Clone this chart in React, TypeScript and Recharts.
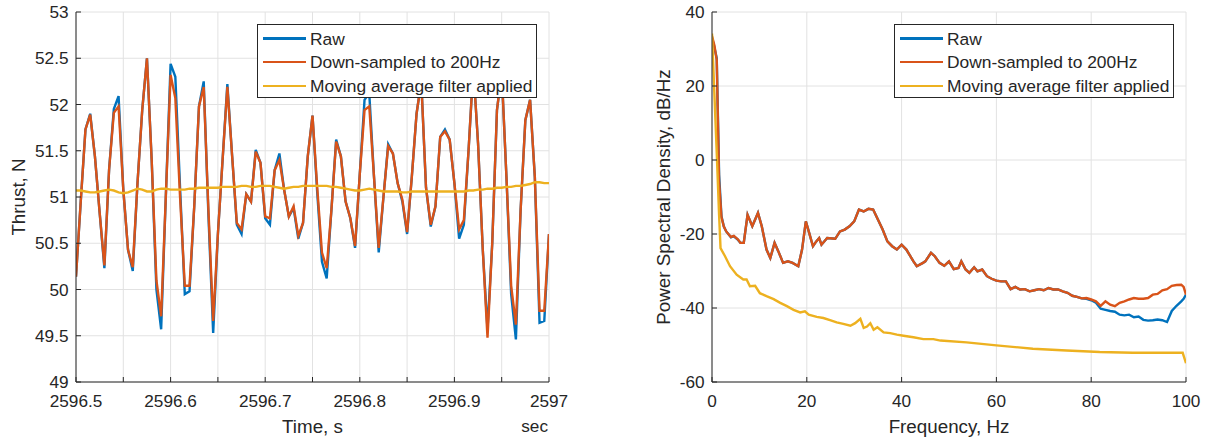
import React from 'react';
import {
    LineChart, Line, XAxis, YAxis, CartesianGrid, Legend,
} from 'recharts';

const FONT = '"Liberation Sans", Arial, Helvetica, sans-serif';
const INK = '#262626';
const GRID = '#e2e2e2';
const BLUE = '#0072BD';
const ORANGE = '#D95319';
const YELLOW = '#EDB120';
const LINE_W = 2.4;

const seriesNames = ['Raw', 'Down-sampled to 200Hz', 'Moving average filter applied'];

// thrust, 200 Hz samples from 2596.5 s
const startTime = 2596.5;
const sampleRate = 200;

const rawThrust = [
    50.14, 50.95, 51.73, 51.90, 51.44, 50.83, 50.23, 51.30, 51.95, 52.09,
    51.08, 50.43, 50.20, 51.15, 51.94, 52.50, 51.40, 50.00, 49.57, 51.02,
    52.44, 52.30, 51.10, 49.95, 49.98, 50.90, 51.98, 52.25, 50.80, 49.53,
    50.60, 51.41, 52.22, 51.45, 50.70, 50.60, 51.03, 50.95, 51.51, 51.37,
    50.77, 50.70, 51.29, 51.47, 51.08, 50.79, 50.88, 50.55, 50.72, 51.44,
    51.88, 51.05, 50.30, 50.12, 50.86, 51.62, 51.44, 50.95, 50.77, 50.45,
    51.25, 52.05, 52.12, 51.22, 50.40, 51.00, 51.57, 51.47, 51.15, 50.95,
    50.60, 51.22, 51.90, 52.25, 51.10, 50.68, 50.90, 51.65, 51.73, 51.62,
    51.15, 50.55, 50.70, 51.51, 52.40, 51.58, 50.43, 49.57, 50.50, 51.94,
    52.35, 51.22, 49.95, 49.46, 50.86, 51.83, 52.05, 51.22, 49.64, 49.66,
    50.60,
];

const downThrust = [
    50.14, 50.95, 51.73, 51.89, 51.44, 50.83, 50.26, 51.30, 51.91, 51.98,
    51.08, 50.43, 50.24, 51.15, 51.94, 52.50, 51.40, 50.10, 49.71, 51.02,
    52.32, 52.07, 51.00, 50.04, 50.04, 50.90, 51.98, 52.19, 50.86, 49.66,
    50.60, 51.41, 52.19, 51.45, 50.72, 50.65, 51.03, 50.95, 51.49, 51.37,
    50.79, 50.77, 51.29, 51.40, 51.08, 50.79, 50.90, 50.58, 50.72, 51.44,
    51.88, 51.10, 50.40, 50.23, 50.86, 51.60, 51.44, 50.95, 50.77, 50.47,
    51.25, 51.94, 51.98, 51.22, 50.45, 51.00, 51.55, 51.47, 51.15, 50.97,
    50.62, 51.22, 51.90, 52.25, 51.10, 50.70, 50.90, 51.65, 51.71, 51.62,
    51.15, 50.65, 50.75, 51.51, 52.40, 51.58, 50.43, 49.48, 50.50, 51.94,
    52.35, 51.22, 50.04, 49.62, 50.86, 51.83, 52.05, 51.22, 49.77, 49.77,
    50.60,
];

const avgThrust = [
    51.07, 51.07, 51.06, 51.05, 51.05, 51.06, 51.07, 51.08, 51.07, 51.05,
    51.04, 51.05, 51.07, 51.09, 51.08, 51.06, 51.06, 51.08, 51.09, 51.09,
    51.08, 51.08, 51.08, 51.08, 51.09, 51.09, 51.10, 51.10, 51.10, 51.10,
    51.10, 51.11, 51.11, 51.11, 51.11, 51.12, 51.12, 51.11, 51.11, 51.12,
    51.12, 51.12, 51.11, 51.10, 51.09, 51.10, 51.11, 51.11, 51.12, 51.12,
    51.12, 51.12, 51.12, 51.12, 51.11, 51.11, 51.10, 51.09, 51.08, 51.07,
    51.07, 51.08, 51.09, 51.08, 51.07, 51.06, 51.06, 51.06, 51.06, 51.05,
    51.05, 51.06, 51.06, 51.06, 51.06, 51.06, 51.06, 51.06, 51.06, 51.06,
    51.06, 51.06, 51.06, 51.07, 51.07, 51.08, 51.08, 51.09, 51.09, 51.10,
    51.10, 51.11, 51.11, 51.12, 51.12, 51.13, 51.14, 51.16, 51.16, 51.15,
    51.15,
];

const timeTicks = [2596.5, 2596.55, 2596.6, 2596.65, 2596.7, 2596.75, 2596.8, 2596.85, 2596.9, 2596.95, 2597];
const timeTickLabels = ['2596.5', '', '2596.6', '', '2596.7', '', '2596.8', '', '2596.9', '', '2597'];
const thrustTicks = [49, 49.5, 50, 50.5, 51, 51.5, 52, 52.5, 53];

// power spectral density, dB/Hz
const psdFreq = [
    0, 0.5, 1, 1.5, 2, 2.5, 3, 4, 4.6, 5.5,
    6, 6.7, 7.5, 8.5, 9.7, 10.5, 11.5, 12.3, 13.2, 14,
    15, 16, 17, 18.2, 19, 19.8, 20.5, 21.3, 22, 22.6,
    23.1, 24.3, 26, 27, 28, 29, 30, 31, 32, 33,
    34, 35, 36, 37, 38, 39, 40, 41, 42.5, 43.2,
    44.5, 45, 46.2, 47, 48, 49, 50, 51, 52, 52.6,
    53.5, 54.3, 55.3, 56, 57, 58, 59, 60, 61, 62,
    63, 64, 65, 66, 67, 68, 69, 70, 71, 72,
    73, 74, 75, 76, 77, 78, 79, 80, 81, 82,
    83, 84, 85, 86, 87, 88, 89, 90, 91, 92,
    93, 94, 95, 96, 97, 98, 99, 99.5, 100,
];

const psdRaw = [
    33, 30.5, 27.5, -4, -15.2, -18, -19.3, -20.9, -20.6, -21.6,
    -22.4, -22.4, -14.8, -17.9, -14.3, -17.9, -24.2, -26.5, -22.4, -24.7,
    -27.8, -27.4, -27.8, -28.7, -24.2, -16.6, -19.7, -23.3, -22, -21.1,
    -22.9, -21.1, -21.3, -19.3, -18.8, -17.9, -16.6, -13.4, -13.9, -13.2,
    -13.4, -16.1, -18.8, -22, -23.3, -24.2, -22.9, -24.2, -27.4, -28.7,
    -27.8, -27.4, -25.1, -26.0, -27.8, -28.6, -27.4, -29.5, -29.2, -27.4,
    -29.6, -30.5, -29, -30.1, -29.6, -31.4, -32.1, -32.6, -32.8, -32.8,
    -34.9, -34.3, -35, -34.9, -35.5, -35.2, -34.9, -35.2, -34.6, -35,
    -35, -35.5, -35.9, -36.7, -37, -37.4, -37.5, -37.9, -38.6, -40.2,
    -40.5, -40.8, -41, -41.8, -42, -41.8, -42.5, -42.3, -43.2, -43.4,
    -43.3, -43.1, -43.3, -43.8, -40.8, -39.4, -38.2, -37.5, -36.4,
];

const psdDown = [
    33.5, 31, 27, -6, -15.5, -18, -19.3, -20.8, -20.5, -21.5,
    -22.4, -22.4, -14.8, -17.9, -14.3, -17.9, -24.2, -26.5, -22.4, -24.7,
    -27.8, -27.4, -27.8, -28.7, -24.2, -16.6, -19.7, -23.3, -22, -21.1,
    -22.9, -21.1, -21.3, -19.3, -18.8, -17.9, -16.6, -13.4, -13.9, -13.2,
    -13.4, -16.1, -18.8, -22, -23.3, -24.2, -22.9, -24.2, -27.4, -28.7,
    -27.8, -27.4, -25.1, -26.0, -27.8, -28.6, -27.4, -29.5, -29.2, -27.4,
    -29.6, -30.5, -29, -30.1, -29.6, -31.4, -32.1, -32.6, -32.8, -32.8,
    -34.9, -34.3, -35, -34.9, -35.5, -35.2, -34.9, -35.2, -34.6, -35,
    -35, -35.5, -35.9, -36.7, -37, -37.4, -37.3, -37.7, -38.2, -39.4,
    -38.2, -39.1, -39.5, -38.6, -38.2, -37.7, -37.3, -37.5, -37.5, -37.3,
    -36.4, -36.2, -35.2, -34.9, -34, -33.8, -33.7, -34.3, -36.4,
];

const filtFreq = [
    0, 0.5, 1, 1.5, 1.8, 2.75, 3.8, 5.2, 6.6, 7.3,
    8, 9.1, 10.1, 11.5, 13, 14.4, 15.8, 17.2, 18.6, 19.6,
    20.4, 22.1, 23.5, 24.9, 26.3, 27.7, 29.2, 30.2, 31.3, 32,
    32.7, 33.4, 34.1, 34.9, 36.2, 37.6, 39, 40.4, 42.5, 44.6,
    46.7, 48.2, 53.7, 60, 67.7, 74.8, 81.8, 88.8, 95.8, 99.3,
    100,
];

const psdFilt = [
    34.2, 18, 2, -15, -23.8, -26, -28.7, -31, -32.3, -32.3,
    -34.1, -34, -36, -36.8, -37.6, -38.6, -39.5, -40.5, -41.2, -40.9,
    -41.8, -42.4, -42.7, -43.3, -43.9, -44.3, -44.8, -44.1, -42.9, -45.4,
    -45, -44.1, -45.9, -45.2, -46.6, -46.8, -47.2, -47.5, -47.9, -48.4,
    -48.4, -48.8, -49.3, -50.1, -51, -51.5, -51.9, -52.1, -52.1, -52.1,
    -54.9,
];

const freqTicks = [0, 20, 40, 60, 80, 100];
const psdTicks = [-60, -40, -20, 0, 20, 40];

const thrustTable = downThrust.map((v, i) => ({
    t: startTime + i / sampleRate,
    raw: rawThrust[i],
    down: v,
    avg: avgThrust[i],
}));
const psdTable = psdFreq.map((f, i) => ({ f, raw: psdRaw[i], down: psdDown[i] }));
const filtTable = filtFreq.map((f, i) => ({ f, avg: psdFilt[i] }));

const tickStyle = { fontSize: 17.2, fill: INK, fontFamily: FONT };

const LegendBox = (props: any) => {
    // keep plotting order (recharts sorts by name otherwise)
    const payload = [...(props.payload || [])].sort(
        (a: any, b: any) => seriesNames.indexOf(a.value) - seriesNames.indexOf(b.value));
    return (
        <div style={{
            boxSizing: 'border-box', width: 280, height: 74, border: `1px solid ${INK}`,
            background: '#fff', position: 'relative', fontFamily: FONT, fontSize: 17.4, color: INK,
        }}>
            {payload.map((p: any, i: number) => (
                <div key={i} style={{
                    position: 'absolute', left: 0, top: 1.5 + i * 23.7, height: 24,
                    display: 'flex', alignItems: 'center', whiteSpace: 'nowrap',
                }}>
                    <span style={{ display: 'inline-block', marginLeft: 5, width: 43, height: LINE_W, background: p.color }} />
                    <span style={{ marginLeft: 4, lineHeight: '24px' }}>{p.value}</span>
                </div>
            ))}
        </div>
    );
};

export default function App() {
    return (
        <div style={{ position: 'absolute', left: 0, top: 0, width: 1207, height: 441, background: '#fff' }}>
            <div style={{ position: 'absolute', left: 0, top: 0 }}>
                <LineChart width={600} height={441} data={thrustTable}
                    margin={{ top: 12, right: 51, bottom: 29, left: 16 }}>
                    <CartesianGrid stroke={GRID} strokeWidth={1} />
                    <XAxis dataKey="t" type="number" domain={[2596.5, 2597]} ticks={timeTicks}
                        tickFormatter={(v: number, i: number) => timeTickLabels[i] ?? ''}
                        tick={tickStyle} tickSize={-5} tickMargin={17.5} height={30}
                        stroke={INK} interval={0} allowDataOverflow />
                    <XAxis xAxisId="top" orientation="top" type="number" domain={[2596.5, 2597]}
                        ticks={timeTicks} tick={false} tickSize={-5} height={0} stroke={INK} interval={0} />
                    <YAxis type="number" domain={[49, 53]} ticks={thrustTicks} tick={tickStyle}
                        tickSize={-5} tickMargin={12.5} width={60} stroke={INK} interval={0} allowDataOverflow />
                    <YAxis yAxisId="right" orientation="right" type="number" domain={[49, 53]}
                        ticks={thrustTicks} tick={false} tickSize={-5} width={0} stroke={INK} interval={0} />
                    <Line type="linear" dataKey="raw" name={seriesNames[0]} stroke={BLUE} strokeWidth={LINE_W}
                        dot={false} isAnimationActive={false} />
                    <Line type="linear" dataKey="down" name={seriesNames[1]} stroke={ORANGE} strokeWidth={LINE_W}
                        dot={false} isAnimationActive={false} />
                    <Line type="linear" dataKey="avg" name={seriesNames[2]} stroke={YELLOW} strokeWidth={LINE_W}
                        dot={false} isAnimationActive={false} />
                    <Legend layout="vertical" align="center" verticalAlign="middle" content={LegendBox}
                        wrapperStyle={{ left: 257, top: 24, width: 280, height: 74 }} />
                </LineChart>
            </div>
            <div style={{ position: 'absolute', left: 620, top: 0 }}>
                <LineChart width={587} height={441}
                    margin={{ top: 12, right: 21, bottom: 29, left: 32 }}>
                    <CartesianGrid stroke={GRID} strokeWidth={1} />
                    <XAxis dataKey="f" type="number" domain={[0, 100]} ticks={freqTicks}
                        tick={tickStyle} tickSize={-5} tickMargin={17.5} height={30}
                        stroke={INK} interval={0} allowDataOverflow />
                    <XAxis xAxisId="top" orientation="top" type="number" domain={[0, 100]}
                        ticks={freqTicks} tick={false} tickSize={-5} height={0} stroke={INK} interval={0} />
                    <YAxis type="number" domain={[-60, 40]} ticks={psdTicks} tick={tickStyle}
                        tickSize={-5} tickMargin={12.5} width={60} stroke={INK} interval={0} allowDataOverflow />
                    <YAxis yAxisId="right" orientation="right" type="number" domain={[-60, 40]}
                        ticks={psdTicks} tick={false} tickSize={-5} width={0} stroke={INK} interval={0} />
                    <Line data={psdTable} type="linear" dataKey="raw" name={seriesNames[0]} stroke={BLUE}
                        strokeWidth={LINE_W} dot={false} isAnimationActive={false} />
                    <Line data={psdTable} type="linear" dataKey="down" name={seriesNames[1]} stroke={ORANGE}
                        strokeWidth={LINE_W} dot={false} isAnimationActive={false} />
                    <Line data={filtTable} type="linear" dataKey="avg" name={seriesNames[2]} stroke={YELLOW}
                        strokeWidth={LINE_W} dot={false} isAnimationActive={false} />
                    <Legend layout="vertical" align="center" verticalAlign="middle" content={LegendBox}
                        wrapperStyle={{ left: 274, top: 24, width: 280, height: 74 }} />
                </LineChart>
            </div>
            {/* axis titles */}
            <svg width={1207} height={441} style={{ position: 'absolute', left: 0, top: 0, pointerEvents: 'none' }}
                fontFamily={FONT} fontSize={18.8} fill={INK}>
                <text x={24.5} y={197} textAnchor="middle" transform="rotate(-90 24.5 197)">Thrust, N</text>
                <text x={312.5} y={432.5} textAnchor="middle">Time, s</text>
                <text x={548} y={431.5} textAnchor="end" fontSize={17.2}>sec</text>
                <text x={669.5} y={197} textAnchor="middle" transform="rotate(-90 669.5 197)">Power Spectral Density, dB/Hz</text>
                <text x={949} y={432.5} textAnchor="middle">Frequency, Hz</text>
            </svg>
        </div>
    );
}
